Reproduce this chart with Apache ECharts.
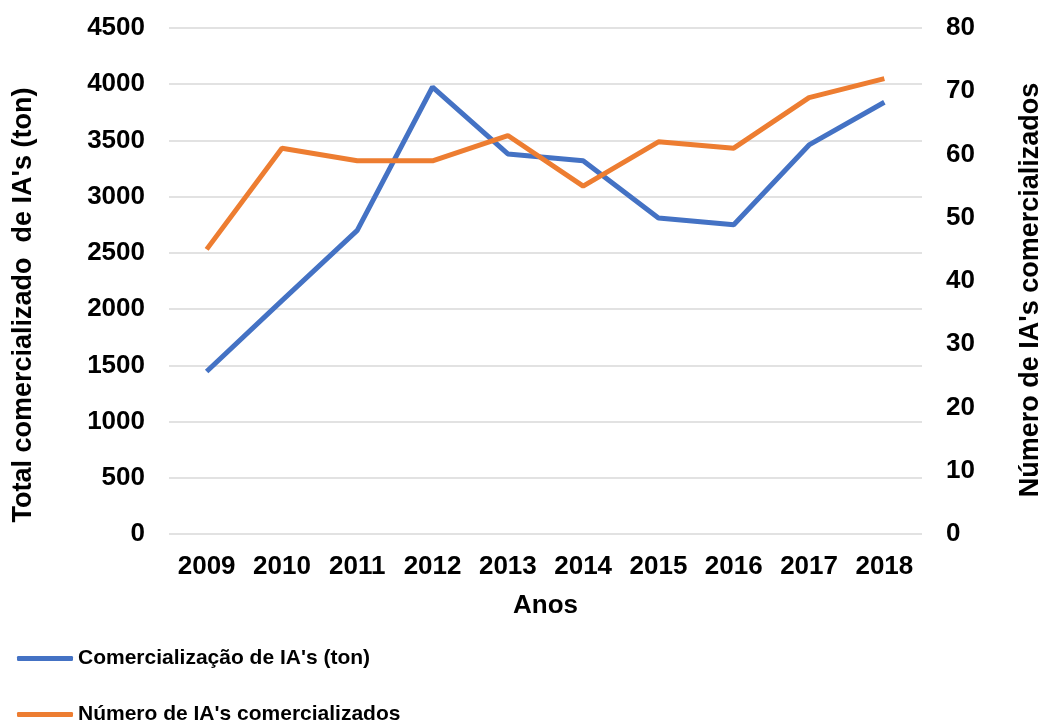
<!DOCTYPE html>
<html>
<head>
<meta charset="utf-8">
<script src="https://cdn.jsdelivr.net/npm/echarts@6/dist/echarts.min.js"></script>
<style>
  html, body { margin: 0; padding: 0; background: #fff; }
  #chart { width: 1041px; height: 720px; }
</style>
</head>
<body>
<div id="chart"></div>
<script>
// data
var anos = ['2009', '2010', '2011', '2012', '2013', '2014', '2015', '2016', '2017', '2018'];
var toneladas = [1445, 2075, 2700, 3975, 3380, 3320, 2810, 2750, 3460, 3840];
var numeroIAs = [45, 61, 59, 59, 63, 55, 62, 61, 69, 72];

var fonte = 'Liberation Sans, Arial, sans-serif';
var semVirgula = function (v) { return String(v); };

var myChart = echarts.init(document.getElementById('chart'));
var option = {
  animation: false,
  textStyle: { fontFamily: fonte },
  grid: { left: 169, right: 119, top: 28, bottom: 186, outerBoundsMode: 'none', containLabel: false },
  legend: {
    orient: 'vertical',
    left: 12,
    top: 643,
    height: 120,
    itemGap: 35,
    itemWidth: 56,
    itemHeight: 5,
    icon: 'roundRect',
    textStyle: { fontSize: 21, fontWeight: 'bold', color: '#000', fontFamily: fonte },
    data: ["Comercialização de IA's (ton)", "Número de IA's comercializados"]
  },
  xAxis: {
    type: 'category',
    data: anos,
    name: 'Anos',
    nameLocation: 'middle',
    nameGap: 59,
    nameTextStyle: { fontSize: 26, fontWeight: 'bold', color: '#000' },
    axisLine: { show: false },
    axisTick: { show: false },
    axisLabel: { margin: 20, fontSize: 26, fontWeight: 'bold', color: '#000', interval: 0 }
  },
  yAxis: [
    {
      type: 'value',
      min: 0,
      max: 4500,
      interval: 500,
      name: "Total comercializado  de IA's (ton)",
      nameLocation: 'middle',
      nameRotate: 90,
      nameGap: 132,
      nameTextStyle: { fontSize: 27, fontWeight: 'bold', color: '#000', padding: [0, 48, 0, 0] },
      axisLine: { show: false },
      axisTick: { show: false },
      axisLabel: { margin: 24, fontSize: 26, fontWeight: 'bold', color: '#000', formatter: semVirgula },
      splitLine: { lineStyle: { color: '#d9d9d9', width: 1.5 } }
    },
    {
      type: 'value',
      min: 0,
      max: 80,
      interval: 10,
      position: 'right',
      name: "Número de IA's comercializados",
      nameLocation: 'middle',
      nameRotate: 90,
      nameGap: 95,
      nameTextStyle: { fontSize: 27, fontWeight: 'bold', color: '#000', padding: [0, 18, 0, 0] },
      axisLine: { show: false },
      axisTick: { show: false },
      axisLabel: { margin: 24, fontSize: 26, fontWeight: 'bold', color: '#000', formatter: semVirgula },
      splitLine: { show: false }
    }
  ],
  series: [
    {
      name: "Comercialização de IA's (ton)",
      type: 'line',
      yAxisIndex: 0,
      data: toneladas,
      showSymbol: false,
      symbol: 'none',
      color: '#4472C4',
      lineStyle: { width: 5, color: '#4472C4' }
    },
    {
      name: "Número de IA's comercializados",
      type: 'line',
      yAxisIndex: 1,
      data: numeroIAs,
      showSymbol: false,
      symbol: 'none',
      color: '#ED7D31',
      lineStyle: { width: 5, color: '#ED7D31' }
    }
  ]
};
myChart.setOption(option);
</script>
</body>
</html>
